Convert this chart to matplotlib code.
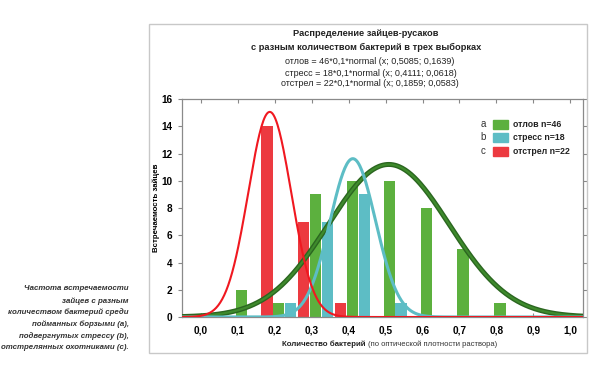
import numpy as np
import matplotlib
matplotlib.use('Agg')
import matplotlib.pyplot as plt
from matplotlib.patches import Rectangle

plt.rcParams['font.family'] = ['Liberation Sans', 'DejaVu Sans']

# Данные (столбцы гистограммы)
bins_otlov = [0.1, 0.2, 0.3, 0.4, 0.5, 0.6, 0.7, 0.8]
otlov = [2, 1, 9, 10, 10, 8, 5, 1]
bins_stress = [0.2, 0.3, 0.4, 0.5]
stress = [1, 7, 9, 1]
bins_otstrel = [0.2, 0.3, 0.4]
otstrel = [14, 7, 1]

# параметры нормальных кривых: n, среднее, сигма
params = {
    'otlov': (46, 0.5085, 0.1639),
    'stress': (18, 0.4111, 0.0618),
    'otstrel': (22, 0.1859, 0.0583),
}

x_ticks = [0.0, 0.1, 0.2, 0.3, 0.4, 0.5, 0.6, 0.7, 0.8, 0.9, 1.0]
x_labels = ['0,0', '0,1', '0,2', '0,3', '0,4', '0,5', '0,6', '0,7', '0,8', '0,9', '1,0']
y_ticks = [0, 2, 4, 6, 8, 10, 12, 14, 16]
legend_letters = ['a', 'b', 'c']
legend_labels = ['отлов n=46', 'стресс n=18', 'отстрел n=22']

c_green = '#5cb03e'
c_cyan = '#5dbdc5'
c_red = '#ec3a40'


def normal_curve(x, n, mu, sd):
    return n * 0.1 * np.exp(-0.5 * ((x - mu) / sd) ** 2) / (sd * np.sqrt(2 * np.pi))


fig = plt.figure(figsize=(6, 3.69), dpi=100)
W, H = 600, 369

# рамка вокруг графика
fig.patches.append(Rectangle((0.248, 0.043), 0.730, 0.892, transform=fig.transFigure,
                             fill=False, edgecolor='#c8c8c8', linewidth=1.0))

ax = fig.add_axes([0.3033, 0.1409, 0.6684, 0.5908])

w = 0.031
ax.bar(np.array(bins_otstrel) - 0.022, otstrel, width=w, color=c_red, zorder=2)
ax.bar(np.array(bins_otlov) + 0.010, otlov, width=w, color=c_green, zorder=2)
ax.bar(np.array(bins_stress) + 0.042, stress, width=w, color=c_cyan, zorder=2)

xs = np.linspace(-0.052, 1.035, 400)
n, mu, sd = params['otlov']
ax.plot(xs, normal_curve(xs, n, mu, sd), color='#2b6620', lw=3.6, zorder=3, solid_capstyle='butt')
ax.plot(xs, normal_curve(xs, n, mu, sd), color='#3e8a2c', lw=1.6, zorder=3)
n, mu, sd = params['stress']
ax.plot(xs, normal_curve(xs, n, mu, sd), color=c_cyan, lw=2.2, zorder=4)
n, mu, sd = params['otstrel']
ax.plot(xs, normal_curve(xs, n, mu, sd), color='#f01820', lw=1.5, zorder=5)

ax.set_xlim(-0.052, 1.035)
ax.set_ylim(0, 16)
ax.set_xticks(x_ticks)
ax.set_xticklabels(x_labels, fontsize=7.2, fontweight='bold')
ax.set_yticks(y_ticks)
ax.set_yticklabels([str(v) for v in y_ticks], fontsize=7.2, fontweight='bold')
ax.tick_params(axis='x', direction='in', length=3, pad=6, top=True, color='#888888')
ax.tick_params(axis='y', direction='out', length=3, pad=4, right=True, color='#888888')
for s in ax.spines.values():
    s.set_color('#8a8a8a')
    s.set_linewidth(0.9)

ax.set_ylabel('Встречаемость зайцев', fontsize=5.7, fontweight='bold')
ax.yaxis.set_label_coords(-0.055, 0.5)

# легенда (вручную, как в оригинале)
for i, (letter, label, c) in enumerate(zip(legend_letters, legend_labels,
                                           (c_green, c_cyan, c_red))):
    yc = 124 + 13.5 * i
    fig.text(483 / W, 1 - yc / H, letter, fontsize=7, ha='center', va='center',
             color='#333333')
    fig.patches.append(Rectangle((493 / W, 1 - (yc + 4.5) / H), 15 / W, 9 / H,
                                 transform=fig.transFigure, color=c, zorder=6))
    fig.text(513 / W, 1 - yc / H, label, fontsize=6.3, fontweight='bold',
             ha='left', va='center', color='#222222')

# заголовок и уравнения
fig.text(366 / W, 1 - 33 / H, 'Распределение зайцев-русаков', ha='center', va='center',
         fontsize=6.7, fontweight='bold', color='#222222')
fig.text(366 / W, 1 - 47 / H, 'с разным количеством бактерий в трех выборках',
         ha='center', va='center', fontsize=6.7, fontweight='bold', color='#222222')
eqs = ['отлов = 46*0,1*normal (x; 0,5085; 0,1639)',
       'стресс = 18*0,1*normal (x; 0,4111; 0,0618)',
       'отстрел = 22*0,1*normal (x; 0,1859; 0,0583)']
eq_x = [285, 285, 281]
for i, t in enumerate(eqs):
    fig.text(eq_x[i] / W, 1 - (62 + 11 * i) / H, t, ha='left', va='center',
             fontsize=6.5, color='#222222')

# подпись оси X
fig.text(366 / W, 1 - 344 / H, 'Количество бактерий', ha='right', va='center',
         fontsize=5.7, fontweight='bold', color='#222222')
fig.text(368 / W, 1 - 344 / H, '(по оптической плотности раствора)', ha='left',
         va='center', fontsize=5.5, color='#333333')

# подпись слева
caption = ['Частота встречаемости', 'зайцев с разным', 'количеством бактерий среди',
           'пойманных борзыми (a),', 'подвергнутых стрессу (b),', 'отстрелянных охотниками (c).']
for i, line in enumerate(caption):
    fig.text(129 / W, 1 - (289 + 11.7 * i) / H, line, ha='right', va='center',
             fontsize=5.7, style='italic', fontweight='bold', color='#333333')

fig.savefig('out.png', dpi=100)
